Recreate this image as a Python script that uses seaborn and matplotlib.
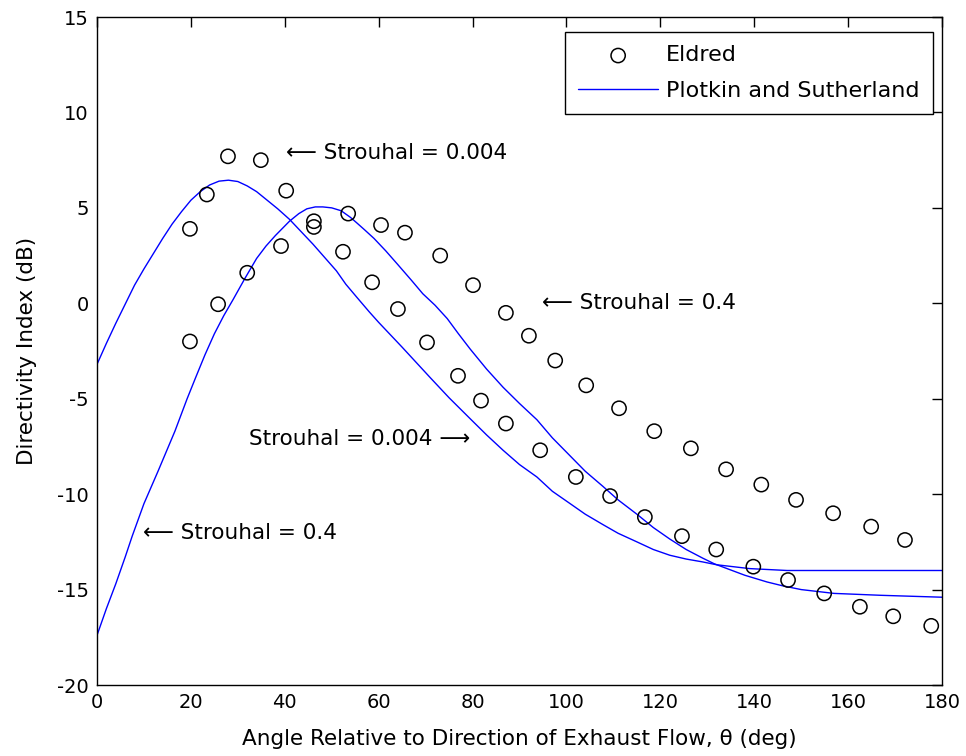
import matplotlib
matplotlib.use("Agg")
import matplotlib.pyplot as plt
import seaborn as sns
import pandas as pd

# Eldred measurements, Strouhal = 0.004
eldred_lo_angle = [19.8, 23.4, 27.9, 34.9, 40.3, 46.2, 52.4, 58.6, 64.1, 70.3,
                   76.9, 81.8, 87.1, 94.4, 102.0, 109.3, 116.7, 124.6, 131.9,
                   139.8, 147.2, 154.9, 162.5, 169.6, 177.7]
eldred_lo_di = [3.9, 5.7, 7.7, 7.5, 5.9, 4.0, 2.7, 1.1, -0.3, -2.05,
                -3.8, -5.1, -6.3, -7.7, -9.1, -10.1, -11.2, -12.2, -12.9,
                -13.8, -14.5, -15.2, -15.9, -16.4, -16.9]

# Eldred measurements, Strouhal = 0.4
eldred_hi_angle = [19.8, 25.8, 32.0, 39.2, 46.2, 53.5, 60.5, 65.6, 73.1, 80.1,
                   87.1, 92.0, 97.6, 104.2, 111.2, 118.7, 126.5, 134.0, 141.5,
                   148.9, 156.8, 164.9, 172.1]
eldred_hi_di = [-2.0, -0.05, 1.6, 3.0, 4.3, 4.7, 4.1, 3.7, 2.5, 0.95,
                -0.5, -1.7, -3.0, -4.3, -5.5, -6.7, -7.6, -8.7, -9.5,
                -10.3, -11.0, -11.7, -12.4]

# Plotkin and Sutherland prediction, Strouhal = 0.004
ps_lo_angle = [0, 2, 4, 6, 8, 10, 12, 14, 16, 18, 20, 22, 24, 26, 28, 30, 32,
               34, 36, 38.5, 41, 43.5, 46, 48.5, 51, 53, 55.4, 58, 60, 62.5,
               65, 68, 71, 75, 79.5, 83, 86.5, 90, 93.7, 97, 100.8, 104,
               107.8, 111, 115, 118.5, 122, 125.5, 129, 132, 135.5, 139,
               143, 147, 150, 160, 170, 180]
ps_lo_di = [-3.2, -2.1, -1.05, -0.05, 0.95, 1.8, 2.6, 3.4, 4.15, 4.8, 5.4,
            5.85, 6.2, 6.4, 6.45, 6.38, 6.15, 5.85, 5.45, 4.95, 4.4, 3.75,
            3.1, 2.4, 1.7, 1.0, 0.3, -0.45, -1.0, -1.65, -2.3, -3.1, -3.9,
            -4.95, -6.05, -6.9, -7.7, -8.45, -9.1, -9.85, -10.5, -11.05,
            -11.6, -12.05, -12.5, -12.9, -13.2, -13.4, -13.55, -13.7, -13.8,
            -13.9, -13.95, -14.0, -14.0, -14.0, -14.0, -14.0]

# Plotkin and Sutherland prediction, Strouhal = 0.4
ps_hi_angle = [0, 2, 4, 6, 7.5, 10, 13, 16.6, 19.2, 21, 23, 25, 27, 29,
               31.5, 34, 36, 38, 41, 43, 44.7, 46.5, 48.1, 50, 52, 54, 55.4,
               57, 59, 61.5, 64, 67, 69.4, 72, 74.6, 77, 79.5, 83, 86.5, 90,
               93.7, 97, 100.8, 104, 107.8, 111, 115, 118.5, 122, 125.5,
               129, 131.5, 134.2, 138, 142.7, 146, 150, 157, 167, 180]
ps_hi_di = [-17.4, -16.0, -14.7, -13.3, -12.2, -10.5, -8.8, -6.7, -5.0, -3.9,
            -2.7, -1.6, -0.65, 0.2, 1.3, 2.35, 3.0, 3.55, 4.3, 4.7, 4.95,
            5.05, 5.05, 5.0, 4.85, 4.5, 4.2, 3.85, 3.4, 2.75, 2.05, 1.2,
            0.5, -0.1, -0.8, -1.6, -2.4, -3.45, -4.4, -5.25, -6.1, -7.05,
            -8.0, -8.8, -9.6, -10.3, -11.05, -11.75, -12.35, -12.9, -13.35,
            -13.65, -13.9, -14.25, -14.6, -14.8, -15.0, -15.2, -15.3, -15.4]

x_ticks = [0, 20, 40, 60, 80, 100, 120, 140, 160, 180]
y_ticks = [-20, -15, -10, -5, 0, 5, 10, 15]

sns.set_style("white")
plt.rcParams["font.family"] = ["DejaVu Sans"]
plt.rcParams["axes.unicode_minus"] = False
plt.rcParams["text.color"] = "black"
plt.rcParams["axes.labelcolor"] = "black"

fig = plt.figure(figsize=(9.66, 7.56), dpi=100)
ax = fig.add_axes([0.1004, 0.0939, 0.8748, 0.8836])

eldred = pd.concat([
    pd.DataFrame({"angle": eldred_lo_angle, "di": eldred_lo_di, "st": "0.004"}),
    pd.DataFrame({"angle": eldred_hi_angle, "di": eldred_hi_di, "st": "0.4"}),
])
pred = pd.concat([
    pd.DataFrame({"angle": ps_lo_angle, "di": ps_lo_di, "st": "0.004"}),
    pd.DataFrame({"angle": ps_hi_angle, "di": ps_hi_di, "st": "0.4"}),
])

sns.lineplot(data=pred, x="angle", y="di", units="st", estimator=None,
             sort=False, color="#0000ff", linewidth=1.0, ax=ax,
             label="Plotkin and Sutherland")
sns.scatterplot(data=eldred, x="angle", y="di", marker="o", s=105,
                facecolors="none", edgecolor="black", linewidth=1.1,
                ax=ax, label="Eldred", zorder=3)

ax.set_xlim(0, 180)
ax.set_ylim(-20, 15)
ax.set_xticks(x_ticks)
ax.set_yticks(y_ticks)
ax.tick_params(direction="in", length=7, width=1, top=True, right=True,
               labelsize=14, colors="black", pad=6)
for s in ax.spines.values():
    s.set_visible(True)
    s.set_color("black")
    s.set_linewidth(1.0)

ax.set_xlabel("Angle Relative to Direction of Exhaust Flow, θ (deg)",
              fontsize=15.5, labelpad=12)
ax.set_ylabel("Directivity Index (dB)", fontsize=15.5, labelpad=14)

txt = dict(fontsize=15.5, ha="left", va="center", color="black")
# upper-left curve label
ax.text(40.3, 7.9, "\u27f5 Strouhal = 0.004", **txt)
# upper-right points label
ax.text(94.8, 0.0, "\u27f5 Strouhal = 0.4", **txt)
# middle curve label
ax.text(32.4, -7.1, "Strouhal = 0.004 \u27f6", **txt)
# lower-left curve label
ax.text(9.8, -12.05, "\u27f5 Strouhal = 0.4", **txt)

handles, labels = ax.get_legend_handles_labels()
order = [labels.index("Eldred"), labels.index("Plotkin and Sutherland")]
leg = ax.legend([handles[i] for i in order], [labels[i] for i in order],
                loc="upper right", fontsize=16, frameon=True, fancybox=False,
                edgecolor="black", framealpha=1, borderpad=0.6,
                labelspacing=0.7, handlelength=3.6, handletextpad=0.35,
                borderaxespad=0.0, bbox_to_anchor=(0.989, 0.9775))
leg.get_frame().set_linewidth(1.0)

fig.savefig("out.png", dpi=100)
